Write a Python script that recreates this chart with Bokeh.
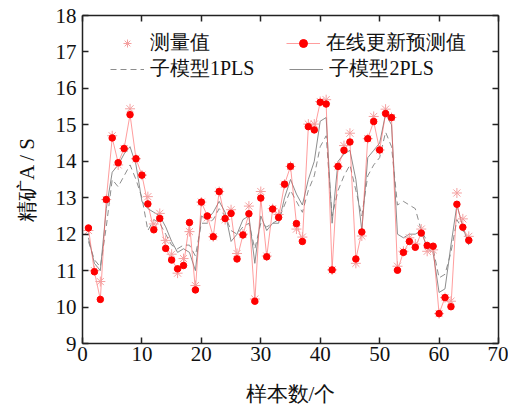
from bokeh.plotting import figure
from bokeh.models import LinearAxis, Legend, LegendItem, FixedTicker, Range1d, ColumnDataSource
from bokeh.embed import file_html
from bokeh.resources import INLINE

# ---- data ----
samples = list(range(1, 66))
measured = [12.10, 11.00, 10.70, 12.95, 14.70, 13.90, 14.35, 15.44, 14.07, 13.62,
            13.03, 12.28, 12.57, 11.83, 11.45, 10.93, 11.33, 12.07, 10.59, 12.88,
            12.45, 11.93, 13.17, 12.40, 12.67, 11.47, 12.00, 12.77, 10.22, 13.17,
            11.40, 12.70, 12.54, 13.37, 13.86, 12.14, 11.92, 15.02, 15.02, 15.64,
            15.69, 11.02, 13.86, 14.43, 14.77, 11.20, 11.95, 14.62, 15.23, 14.31,
            15.43, 15.20, 11.12, 11.53, 11.90, 11.73, 12.14, 11.53, 11.57, 9.82,
            10.26, 10.16, 13.13, 12.42, 11.94]
predicted = [12.17, 10.97, 10.21, 12.95, 14.64, 13.96, 14.35, 15.28, 14.07, 13.62,
             12.83, 12.12, 12.43, 11.61, 11.29, 11.05, 11.14, 12.32, 10.47, 12.88,
             12.50, 11.93, 13.17, 12.43, 12.57, 11.32, 11.98, 12.56, 10.16, 12.99,
             11.38, 12.69, 12.46, 13.37, 13.86, 12.29, 11.80, 14.95, 14.86, 15.62,
             15.57, 11.02, 13.86, 14.30, 14.53, 11.32, 12.06, 14.62, 15.09, 14.31,
             15.31, 15.20, 11.01, 11.50, 11.80, 11.64, 12.03, 11.69, 11.67, 9.82,
             10.26, 10.01, 12.82, 12.19, 11.83]
pls1 = [11.8, 11.3, 11.1, 12.2, 13.5, 13.3, 13.6, 13.9, 13.5, 13.0,
        12.1, 12.4, 12.3, 12.0, 11.7, 11.6, 11.7, 11.7, 11.4, 12.3,
        12.3, 12.4, 12.7, 12.5, 12.1, 12.0, 12.2, 12.3, 11.6, 12.3,
        12.2, 12.3, 12.4, 12.8, 13.2, 12.9, 12.6, 13.2, 13.6, 14.4,
        14.7, 12.5, 13.2, 13.6, 13.9, 13.2, 12.5, 13.6, 13.9, 14.1,
        14.8, 14.4, 12.8, 12.9, 12.8, 12.7, 12.1, 11.8, 11.6, 10.8,
        10.9, 11.5, 12.4, 12.1, 11.8]
pls2 = [11.9, 11.2, 11.0, 12.7, 13.7, 13.9, 14.2, 14.4, 13.9, 12.9,
        12.7, 12.6, 12.5, 12.2, 11.8, 11.5, 11.6, 11.5, 11.0, 12.5,
        12.4, 12.6, 12.9, 12.6, 11.8, 12.0, 12.4, 12.5, 11.2, 12.5,
        12.1, 12.3, 12.3, 13.0, 13.5, 13.1, 12.8, 13.5, 14.0, 15.1,
        15.2, 12.3, 14.0, 14.2, 14.3, 13.5, 12.1, 14.1, 14.3, 14.5,
        15.3, 15.0, 12.0, 11.9, 12.0, 12.0, 12.1, 11.6, 11.5, 10.4,
        10.5, 11.7, 12.8, 12.2, 11.7]
x_ticks = [0, 10, 20, 30, 40, 50, 60, 70]
y_ticks = [9, 10, 11, 12, 13, 14, 15, 16, 17, 18]

FONT = "Liberation Serif"
AX = "#222222"

src = ColumnDataSource(dict(x=samples, m=measured, p=predicted, a=pls1, b=pls2))

p = figure(frame_width=416, frame_height=328, output_backend="svg", toolbar_location=None,
           x_range=Range1d(0, 70), y_range=Range1d(9, 18),
           min_border_left=82, min_border_right=10, min_border_top=15, min_border_bottom=61)
p.grid.visible = False
p.outline_line_color = None

r_a = p.line("x", "a", source=src, line_color="#808080", line_width=0.9, line_dash="6 4")
r_b = p.line("x", "b", source=src, line_color="#808080", line_width=0.9)
r_pl = p.line("x", "p", source=src, line_color="#ff5a5a", line_width=0.8, line_alpha=0.75)
r_m = p.scatter("x", "m", source=src, marker="asterisk", size=10, line_color="#f4a0a0", line_width=1)
r_pd = p.scatter("x", "p", source=src, marker="circle", size=6.5, fill_color="#ff0000", line_color="#ff0000")

def base_style(ax):
    ax.axis_line_color = AX
    ax.axis_line_width = 1.5
    ax.major_tick_in = 6
    ax.major_tick_out = 0
    ax.major_tick_line_color = AX
    ax.major_tick_line_width = 1.5
    ax.minor_tick_line_color = None

p.xaxis.ticker = FixedTicker(ticks=x_ticks)
p.yaxis.ticker = FixedTicker(ticks=y_ticks)
for ax in [p.xaxis[0], p.yaxis[0]]:
    base_style(ax)
    ax.major_label_text_font = FONT
    ax.major_label_text_font_size = "21px"
    ax.major_label_text_color = "#111111"
    ax.axis_label_text_font = FONT
    ax.axis_label_text_font_size = "21px"
    ax.axis_label_text_font_style = "normal"
    ax.axis_label_text_color = "#111111"
p.xaxis.axis_label = "样本数/个"
p.yaxis.axis_label = "精矿A / S"
p.xaxis.major_label_standoff = 3
p.yaxis.major_label_standoff = 6
p.xaxis.axis_label_standoff = 18
p.yaxis.axis_label_standoff = 14

top = LinearAxis(ticker=FixedTicker(ticks=x_ticks), major_label_overrides={t: "" for t in x_ticks})
right = LinearAxis(ticker=FixedTicker(ticks=y_ticks), major_label_overrides={t: "" for t in y_ticks})
for ax in [top, right]:
    base_style(ax)
    ax.major_label_standoff = 0
p.add_layout(top, "above")
p.add_layout(right, "right")

def make_legend(items, loc, spacing):
    lg = Legend(items=items, location=loc, orientation="horizontal", spacing=spacing,
                padding=0, margin=0, border_line_color=None, background_fill_alpha=0,
                glyph_width=34, glyph_height=20, label_standoff=6, label_height=20,
                label_text_font=FONT, label_text_font_size="20px", label_text_color="#111111")
    p.add_layout(lg, "center")
    return lg

make_legend([LegendItem(label="测量值", renderers=[r_m]),
             LegendItem(label="在线更新预测值", renderers=[r_pl, r_pd])], (28, 287), 76)
make_legend([LegendItem(label="子模型1PLS", renderers=[r_a]),
             LegendItem(label="子模型2PLS", renderers=[r_b])], (28, 261), 35)

open("out.html", "w").write(file_html(p, INLINE))
